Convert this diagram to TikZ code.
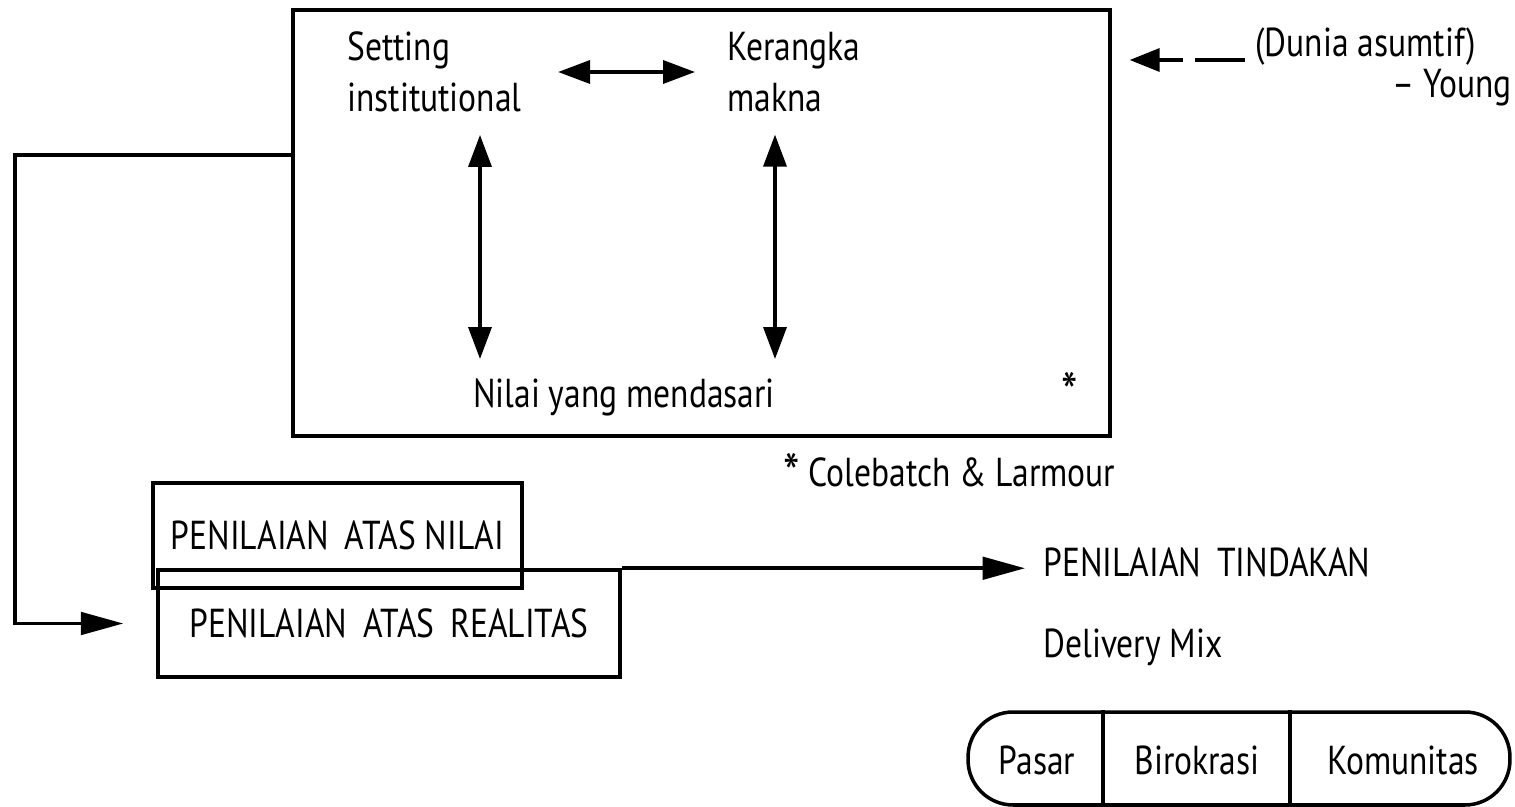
\documentclass[tikz,border=0pt]{standalone}
\usepackage{fontspec}
\setmainfont{PT Sans}[FakeStretch=0.83]
\usetikzlibrary{arrows.meta}
\newcommand{\bintangku}{\raisebox{-0.35ex}{\fontsize{32}{32}\selectfont *}}
\begin{document}
\begin{tikzpicture}[x=0.02cm, y=-0.02cm,
        teks/.style = {inner sep=0pt, font=\fontsize{23}{29}\selectfont},
        kotak/.style = {draw, line width=2pt, inner sep=0pt, font=\fontsize{23}{29}\selectfont},
        dua/.style = {{Triangle[length=0.64cm, width=0.46cm]}-{Triangle[length=0.64cm, width=0.46cm]}, line width=2pt},
        panah/.style = {-{Triangle[length=0.85cm, width=0.45cm]}, line width=2pt}]
    \useasboundingbox (0,0) rectangle (1515,807);
    % kotak utama
    \node (utama) [kotak, minimum width=16.34cm, minimum height=8.52cm] at (701.5,223) {};
    \node (setting) [teks, anchor=west, align=left] at (347,72) {Setting\\institutional};
    \node (kerangka) [teks, anchor=west, align=left] at (727,72) {Kerangka\\makna};
    \node (nilai) [teks] at (624,397) {Nilai yang mendasari};
    \node (bintang) [teks] at (1070,392) {\bintangku};
    \node (colebatch) [teks, anchor=west] at (783,473) {\bintangku\ Colebatch \& Larmour};
    \draw [dua, shorten <=0.72cm, shorten >=0.64cm] (setting.east) -- (kerangka.west);
    \draw [dua, shorten <=0.45cm, shorten >=0.38cm] (setting.south -| 480,0) -- (nilai.north -| 480,0);
    \draw [dua, shorten <=0.45cm, shorten >=0.38cm] (kerangka.south -| 775,0) -- (nilai.north -| 775,0);
    % Young
    \node (dunia) [teks, anchor=west] at (1255,47) {(Dunia asumtif)};
    \node (young) [teks, anchor=east] at (1512,88) {-- Young};
    \draw [-{Triangle[length=0.6cm, width=0.46cm]}, line width=2pt, dash pattern=on 1cm off 0.25cm, shorten <=0.2cm, shorten >=0.36cm] (dunia.west |- 0,60) -- (utama.east |- 0,60);
    % penilaian
    \node (realitas) [kotak, minimum width=9.24cm, minimum height=2.14cm] at (389,623.5) {PENILAIAN\, ATAS\, REALITAS};
    \node (atasnilai) [kotak, minimum width=7.38cm, minimum height=2.1cm] at (337.5,535.5) {PENILAIAN\, ATAS NILAI};
    \draw [panah, shorten >=0.66cm] (utama.west |- 0,155) -- (15,155) |- (realitas.west);
    \node (tindakan) [teks, anchor=west] at (1043,562) {PENILAIAN\, TINDAKAN};
    \node (delivery) [teks, anchor=west] at (1043,647) {Delivery Mix};
    \draw [panah, shorten >=0.36cm] (realitas.north east) -- (tindakan.west |- realitas.north east);
    % delivery mix
    \node (pil) [kotak, rounded corners=0.9cm, minimum width=10.84cm, minimum height=1.86cm] at (1239,758.5) {};
    \draw [line width=2pt] (pil.north -| 1103,0) -- (pil.south -| 1103,0);
    \draw [line width=2pt] (pil.north -| 1290,0) -- (pil.south -| 1290,0);
    \node (pasar) [teks] at (1037,760) {Pasar};
    \node (birokrasi) [teks] at (1197,760) {Birokrasi};
    \node (komunitas) [teks] at (1403,760) {Komunitas};
\end{tikzpicture}
\end{document}
